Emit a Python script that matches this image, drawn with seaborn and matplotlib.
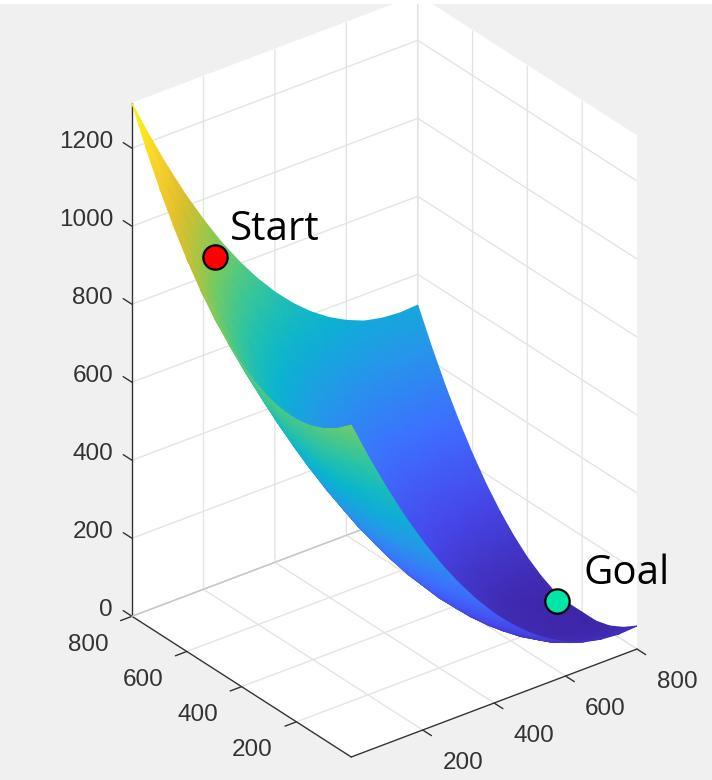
import numpy as np
import matplotlib
matplotlib.use('Agg')
import matplotlib.pyplot as plt
from matplotlib.patches import Rectangle
from mpl_toolkits.mplot3d import proj3d
import seaborn as sns

# values
x_grid = [0, 50, 100, 150, 200, 250, 300, 350, 400, 450, 500, 550, 600, 650, 700, 750, 800]
y_grid = [0, 50, 100, 150, 200, 250, 300, 350, 400, 450, 500, 550, 600, 650, 700, 750, 800]
z_grid = [
    [851, 749, 654, 565, 484, 410, 343, 283, 230, 184, 145, 113, 88, 70, 60, 56, 59],
    [820, 719, 626, 538, 458, 385, 319, 260, 207, 162, 122, 90, 64, 46, 35, 30, 33],
    [797, 698, 606, 519, 440, 368, 302, 243, 190, 145, 106, 74, 48, 29, 18, 12, 14],
    [782, 684, 593, 507, 429, 358, 292, 233, 182, 136, 97, 65, 39, 20, 9, 6, 4],
    [775, 678, 588, 503, 425, 353, 289, 231, 179, 134, 95, 62, 36, 17, 11, 7, 4],
    [776, 680, 590, 506, 428, 358, 293, 235, 184, 138, 99, 67, 40, 21, 12, 8, 4],
    [785, 689, 600, 516, 440, 369, 305, 247, 196, 150, 111, 78, 53, 33, 20, 12, 11],
    [802, 707, 617, 534, 458, 387, 323, 265, 214, 169, 130, 97, 71, 50, 37, 31, 29],
    [827, 732, 643, 560, 483, 413, 349, 291, 240, 195, 156, 123, 96, 76, 64, 56, 54],
    [860, 765, 675, 592, 516, 445, 381, 323, 272, 227, 188, 155, 129, 108, 95, 88, 87],
    [901, 805, 716, 632, 555, 485, 421, 363, 312, 266, 227, 194, 168, 148, 135, 127, 127],
    [950, 854, 764, 680, 602, 532, 467, 409, 358, 312, 273, 241, 214, 195, 182, 175, 174],
    [1007, 910, 820, 735, 656, 585, 521, 463, 411, 366, 326, 293, 267, 248, 236, 229, 229],
    [1072, 974, 882, 797, 719, 647, 582, 523, 471, 425, 387, 354, 328, 309, 296, 290, 291],
    [1145, 1045, 954, 866, 788, 715, 650, 590, 538, 492, 453, 421, 395, 376, 365, 359, 360],
    [1226, 1125, 1031, 944, 864, 791, 724, 665, 612, 567, 527, 495, 469, 450, 439, 435, 437],
    [1315, 1213, 1118, 1029, 948, 873, 806, 746, 693, 647, 608, 576, 551, 532, 522, 518, 521],
]
xy_ticks = [200, 400, 600, 800]
z_ticks = [0, 200, 400, 600, 800, 1000, 1200]
z_top = 1315

start_point = (140, 680, 926)
goal_point = (767, 250, 21)

parula_stops = ['#3e26a8', '#4747eb', '#3e6fff', '#2796eb', '#08b5d0',
                '#31c69f', '#80cc59', '#dcbd29', '#fccf30', '#f9fb14']

sns.set_theme(style='white')
plt.rcParams['font.family'] = ['Liberation Sans', 'DejaVu Sans']
parula = sns.blend_palette(parula_stops, as_cmap=True)

W, H = 712, 780
fig = plt.figure(figsize=(W / 100, H / 100), dpi=100, facecolor='#f0f0f0')


def box_axes(side, left, bottom):
    return [left / W, bottom / H, side / W, side / H]


ax = fig.add_axes(box_axes(700, 0, 0), projection='3d')
ax.set_proj_type('ortho')
ax.view_init(elev=29.5, azim=-127.5)
ax.set_box_aspect((360, 360, 589))
ax.set_xlim(0, 800)
ax.set_ylim(0, 800)
ax.set_zlim(0, z_top)
ax.patch.set_visible(False)

for axis, ticks in zip((ax.xaxis, ax.yaxis, ax.zaxis), (xy_ticks, xy_ticks, z_ticks)):
    axis.set_ticks(ticks)
    axis.set_ticklabels([])
    axis.set_pane_color('white')
    axis.pane.set_edgecolor('white')
    axis.line.set_color('#333333')
    axis.line.set_linewidth(1.0)
    axis._axinfo['grid'].update(color='#e4e4e4', linewidth=1.0)
    axis._axinfo['tick'].update(inward_factor=0.5, outward_factor=0.0, linewidth={True: 1.0, False: 0.5})
ax.tick_params(color='#333333')

# z ticks lean along y in the picture, pointing away from the box
ax.zaxis._get_tickdir = lambda pos: 1
ax.zaxis._axinfo['tick'].update(inward_factor=0.0, outward_factor=0.5)

# the floor edge on the left wall is a bit darker than the grid
ax.plot([0, 800], [800, 800], [0, 0], color='#c6c6c6', lw=1.0)
ax.set_xlim(0, 800)
ax.set_ylim(0, 800)
ax.set_zlim(0, z_top)


def to_px(x, y, z):
    fig.canvas.draw()
    x, y, z = np.asarray(x), np.asarray(y), np.asarray(z)
    xs, ys, _ = proj3d.proj_transform(x.ravel(), y.ravel(), z.ravel(), ax.get_proj())
    pts = ax.transData.transform(np.column_stack([xs, ys]))
    return pts[:, 0].reshape(x.shape), H - pts[:, 1].reshape(x.shape)


# fit the box onto the corners seen in the picture
corner_x, corner_y, corner_z = [0, 0, 800], [0, 800, 0], [0, 0, 0]
cx, cy = to_px(corner_x, corner_y, corner_z)
side = 700 * (637 - 132) / (cx[2] - cx[1])
ax.set_position(box_axes(side, 0, 0))
cx, cy = to_px(corner_x, corner_y, corner_z)
ax.set_position(box_axes(side, 132 - cx[1], cy[0] - 757))

# surface drawn far to near so the nearer sheet covers the farther one
X, Y = np.meshgrid(x_grid[::-1], y_grid[::-1])
Z = np.array(z_grid)[::-1, ::-1]
sx, sy = to_px(X, Y, Z)

top = fig.add_axes([0, 0, 1, 1])
top.set_xlim(0, W)
top.set_ylim(H, 0)
top.axis('off')
top.pcolormesh(sx, sy, Z, shading='gouraud', cmap=parula, vmin=0, vmax=z_top)

# tick labels sit next to their ticks
label_style = dict(fontsize=17.5, color='#333333', va='center')
for t in xy_ticks:
    px, py = to_px(t, 0, 0)
    top.text(px + 40, py + 32.5, str(t), ha='center', **label_style)
    px, py = to_px(0, t, 0)
    top.text(px - 44, py + 28.5, str(t), ha='center', **label_style)
for t in z_ticks:
    px, py = to_px(0, 800, t)
    top.text(px - 19, py - 6.5, str(t), ha='right', **label_style)

px, py = to_px(*start_point)
top.plot(px, py, 'o', ms=17.5, mfc='#ff0000', mec='black', mew=1.6)
px, py = to_px(*goal_point)
top.plot(px, py, 'o', ms=17.5, mfc='#00e5a8', mec='black', mew=1.6)

top.text(230, 240, 'Start', fontsize=29, color='black', family='Open Sans')
top.text(584, 584, 'Goal', fontsize=29, color='black', family='Open Sans')

fig.add_artist(Rectangle((0, 1 - 4 / H), 1, 4 / H, transform=fig.transFigure, color='white', lw=0))

fig.savefig('out.png', dpi=100, facecolor=fig.get_facecolor())
